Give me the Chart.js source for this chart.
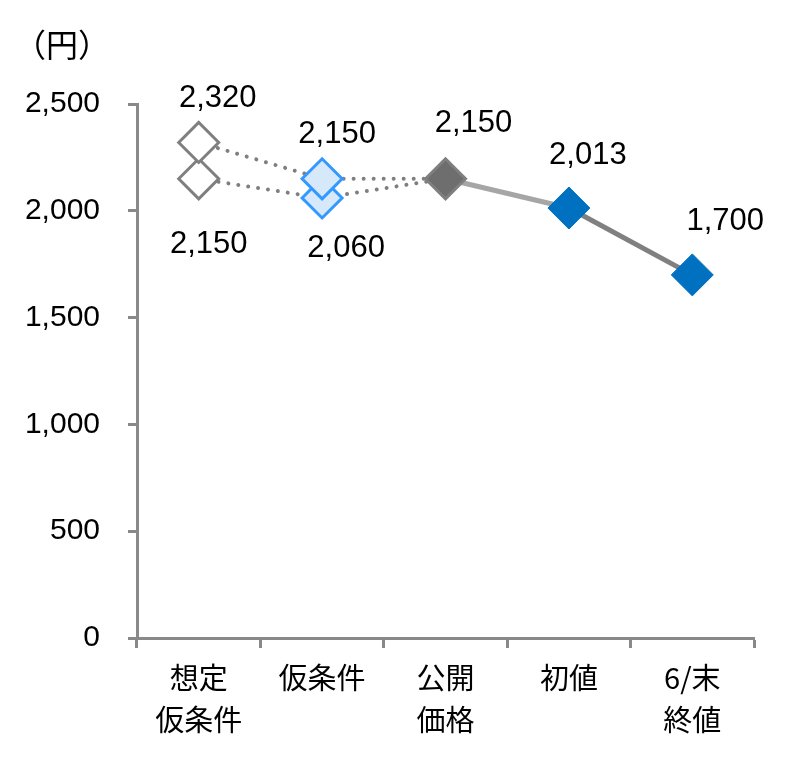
<!DOCTYPE html>
<html>
<head>
<meta charset="utf-8">
<script src="https://cdn.jsdelivr.net/npm/chart.js@4"></script>
<style>
  html, body { margin: 0; padding: 0; background: #fff; }
  #wrap { width: 805px; height: 769px; }
</style>
</head>
<body>
<div id="wrap"><canvas id="chart"></canvas></div>
<script>
// データ
const categories = [['想定', '仮条件'], '仮条件', ['公開', '価格'], '初値', ['6/末', '終値']];
const upperPath = [2320, 2150, 2150, null, null];   // 上限側
const lowerPath = [2150, 2060, 2150, null, null];   // 下限側
const mainPath = [null, null, 2150, 2013, 1700];    // 公開価格〜6月末
const yTicks = [0, 500, 1000, 1500, 2000, 2500];
const unitLabel = '（円）';

const numFont = "'Liberation Sans', Arial, sans-serif";
const cjkFont = "'Noto Sans CJK JP', sans-serif";

const gray = '#7f7f7f';
const lightBlue = '#d6e9fb';
const brightBlue = '#3399ff';
const darkGray = '#6e6e6e';
const blue = '#0070c0';

// ラベルの位置（点からのずれ）
const labelOffsets = {
  upperMarks: [[19, -44], [15, -44]],
  lowerMarks: [[10, 66], [24, 50]],
  mainMarks: [null, null, [28, -55], [19, -53], [33, -53]]
};

const fmt = v => v.toLocaleString('en-US');

const valueLabels = {
  id: 'valueLabels',
  afterDatasetsDraw(chart) {
    const ctx = chart.ctx;
    ctx.save();
    ctx.font = '31px ' + numFont;
    ctx.fillStyle = '#000';
    ctx.textAlign = 'center';
    ctx.textBaseline = 'middle';
    chart.data.datasets.forEach((ds, i) => {
      const offs = labelOffsets[ds.key];
      if (!offs) return;
      const meta = chart.getDatasetMeta(i);
      meta.data.forEach((pt, j) => {
        const o = offs[j];
        if (!o || ds.data[j] == null) return;
        ctx.fillText(fmt(ds.data[j]), pt.x + o[0], pt.y + o[1]);
      });
    });
    // 単位
    ctx.font = '32px ' + cjkFont;
    ctx.fillText(unitLabel, 62, 45);
    ctx.restore();
  }
};

const dotted = {
  borderColor: gray,
  borderWidth: 4,
  borderDash: [0.01, 10],
  borderCapStyle: 'round',
  pointRadius: 0,
  fill: false,
  tension: 0
};

new Chart(document.getElementById('chart'), {
  type: 'line',
  data: {
    labels: categories,
    datasets: [
      Object.assign({ key: 'lowerLine', data: lowerPath, order: 6 }, dotted),
      Object.assign({ key: 'upperLine', data: upperPath, order: 5 }, dotted),
      {
        key: 'mainLine',
        data: mainPath,
        order: 4,
        borderWidth: 5,
        borderColor: gray,
        pointRadius: 0,
        segment: {
          borderColor: c => c.p0DataIndex === 2 ? '#a6a6a6' : '#808080'
        }
      },
      {
        key: 'lowerMarks',
        data: lowerPath,
        order: 3,
        showLine: false,
        pointStyle: 'rectRot',
        pointRadius: [20, 20, 0],
        pointBorderWidth: 3,
        pointBackgroundColor: ['#ffffff', lightBlue, darkGray],
        pointBorderColor: [gray, brightBlue, gray]
      },
      {
        key: 'upperMarks',
        data: upperPath,
        order: 2,
        showLine: false,
        pointStyle: 'rectRot',
        pointRadius: [20, 20, 0],
        pointBorderWidth: 3,
        pointBackgroundColor: ['#ffffff', lightBlue, darkGray],
        pointBorderColor: [gray, brightBlue, gray]
      },
      {
        key: 'mainMarks',
        data: mainPath,
        order: 1,
        showLine: false,
        pointStyle: 'rectRot',
        pointRadius: [0, 0, 20, 21, 21],
        pointBorderWidth: [0, 0, 3, 1, 1],
        pointBackgroundColor: [blue, blue, darkGray, blue, blue],
        pointBorderColor: [blue, blue, gray, blue, blue]
      }
    ]
  },
  options: {
    responsive: true,
    maintainAspectRatio: false,
    animation: false,
    layout: { padding: { left: 22, right: 51, top: 104, bottom: 19 } },
    plugins: {
      legend: { display: false },
      tooltip: { enabled: false }
    },
    scales: {
      x: {
        offset: true,
        grid: {
          offset: true,
          drawOnChartArea: false,
          tickLength: 10,
          tickWidth: 3,
          tickColor: '#898989'
        },
        border: { color: '#898989', width: 3 },
        ticks: {
          color: '#000',
          padding: 9,
          maxRotation: 0,
          autoSkip: false,
          font: { family: cjkFont, size: 29, lineHeight: '42px' }
        },
        afterFit: s => { s.height = 112; }
      },
      y: {
        min: 0,
        max: 2500,
        afterBuildTicks: s => { s.ticks = yTicks.map(v => ({ value: v })); },
        grid: {
          drawOnChartArea: false,
          tickLength: 9,
          tickWidth: 3,
          tickColor: '#898989'
        },
        border: { color: '#898989', width: 3 },
        ticks: {
          color: '#000',
          padding: 28,
          font: { family: numFont, size: 30 },
          callback: v => fmt(v)
        },
        afterFit: s => { s.width = 115; }
      }
    }
  },
  plugins: [valueLabels]
});
</script>
</body>
</html>
